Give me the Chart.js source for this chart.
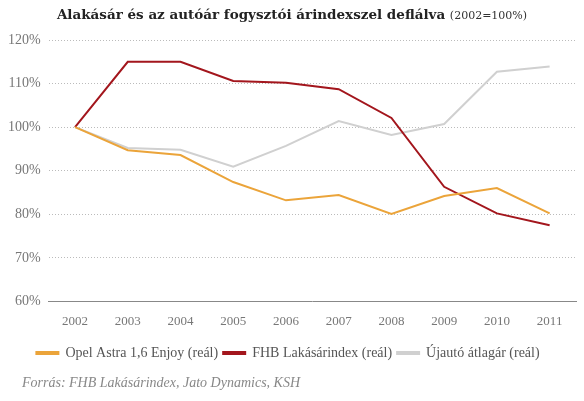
<!DOCTYPE html>
<html>
<head>
<meta charset="utf-8">
<script src="https://cdn.jsdelivr.net/npm/chart.js@4"></script>
<style>
  body { margin: 0; background: #fff; }
  #wrap { position: relative; width: 584px; height: 401px; }
  #title { position: absolute; top: 6px; left: 0; width: 584px; text-align: center;
    font-family: "DejaVu Serif", serif; font-size: 13.5px; font-weight: bold; color: #222; }
  #title span { font-weight: normal; font-size: 11px; color: #333; }
  #source { position: absolute; left: 22px; top: 375px; font-family: "Liberation Serif", serif;
    font-style: italic; font-size: 14px; color: #888; }
</style>
</head>
<body>
<div id="wrap">
  <canvas id="chart" width="584" height="401"></canvas>
  <div id="title">Alakásár és az autóár fogysztói árindexszel deflálva <span>(2002=100%)</span></div>
  <div id="source">Forrás: FHB Lakásárindex, Jato Dynamics, KSH</div>
</div>
<script>
// years on the x axis
const years = ["2002", "2003", "2004", "2005", "2006", "2007", "2008", "2009", "2010", "2011"];

// series (percent, 2002 = 100)
const opelAstra = [100, 94.7, 93.6, 87.4, 83.2, 84.4, 80.1, 84.2, 86.0, 80.2];
const fhbIndex = [100, 115.0, 115.0, 110.6, 110.2, 108.7, 102.1, 86.3, 80.2, 77.5];
const newCarAvg = [100, 95.2, 94.8, 90.9, 95.7, 101.4, 98.2, 100.7, 112.7, 113.9];

const seriesNames = ["Opel Astra 1,6 Enjoy (reál)", "FHB Lakásárindex (reál)", "Újautó átlagár (reál)"];
const seriesColors = ["#EBA43A", "#A3161D", "#D0D0D0"];

const yMin = 60;
const yMax = 120;
const yStep = 10;

function makeDataset(i, values) {
  return {
    label: seriesNames[i],
    data: values,
    borderColor: seriesColors[i],
    backgroundColor: seriesColors[i],
    borderWidth: 2,
    pointRadius: 0,
    tension: 0,
  };
}

new Chart(document.getElementById("chart"), {
  type: "line",
  data: {
    labels: years,
    datasets: [
      makeDataset(0, opelAstra),
      makeDataset(1, fhbIndex),
      makeDataset(2, newCarAvg),
    ],
  },
  options: {
    responsive: false,
    animation: false,
    layout: { padding: { top: 40, left: 0, right: 8, bottom: 31 } },
    plugins: {
      title: { display: false },
      tooltip: { enabled: false },
      legend: {
        position: "bottom",
        labels: {
          boxWidth: 22,
          boxHeight: 2,
          padding: 5,
          color: "#555",
          font: { family: "Liberation Serif", size: 14 },
        },
      },
    },
    scales: {
      x: {
        offset: true,
        grid: { display: false, drawTicks: false },
        border: { display: true, color: "#888", width: 1 },
        ticks: { color: "#777", padding: 12, font: { family: "Liberation Serif", size: 13 } },
      },
      y: {
        min: yMin,
        max: yMax,
        grid: {
          color: "#bbb",
          drawTicks: false,
          lineWidth: (ctx) => (ctx.tick && ctx.tick.value === yMin ? 0 : 1),
        },
        border: { display: false, dash: [1, 2] },
        ticks: {
          stepSize: yStep,
          color: "#777",
          padding: 8,
          font: { family: "Liberation Serif", size: 14 },
          callback: (v) => v + "%",
        },
      },
    },
  },
});
</script>
</body>
</html>
